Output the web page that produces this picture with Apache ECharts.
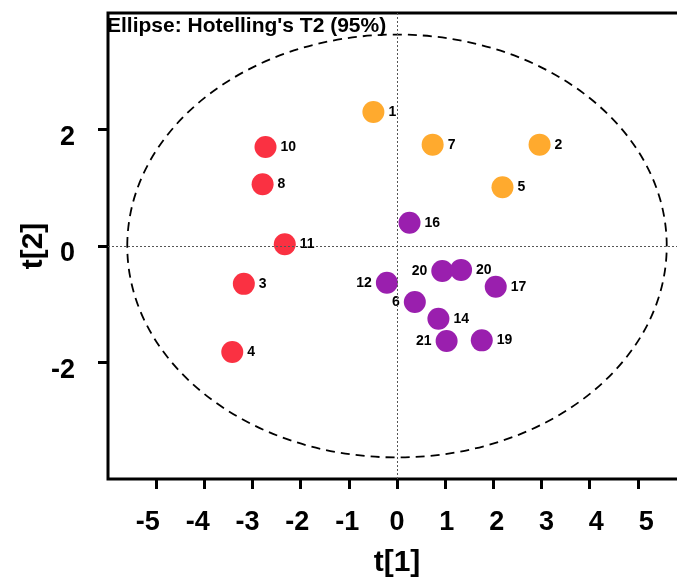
<!DOCTYPE html>
<html><head><meta charset="utf-8">
<script src="https://cdn.jsdelivr.net/npm/echarts@6/dist/echarts.min.js"></script>
<style>html,body{margin:0;padding:0;background:#fff}#c{width:677px;height:577px}</style>
</head><body><div id="c"></div>
<script>
// ---- data ----
const titleText = "Ellipse: Hotelling's T2 (95%)";
const xName = 't[1]';
const yName = 't[2]';
const xTicks = [-5, -4, -3, -2, -1, 0, 1, 2, 3, 4, 5];
const yTicks = [-2, 0, 2];

const orangeNames = ['1', '7', '2', '5'];
const orangeX = [-0.49, 0.74, 2.96, 2.19];
const orangeY = [2.30, 1.74, 1.74, 1.01];

const redNames = ['10', '8', '11', '3', '4'];
const redX = [-2.73, -2.79, -2.33, -3.18, -3.42];
const redY = [1.70, 1.06, 0.03, -0.65, -1.82];

const purpleNames = ['16', '20', '20', '12', '17', '6', '14', '21', '19'];
const purpleX = [0.26, 0.94, 1.33, -0.21, 2.05, 0.37, 0.86, 1.03, 1.76];
const purpleY = [0.40, -0.43, -0.41, -0.63, -0.70, -0.96, -1.25, -1.63, -1.62];

const ellipseCenter = [0, 0];
const ellipseRadii = [5.6, 3.63];

// ---- styling ----
const leftLabelPurple = [1, 3, 5, 7];
const FONT = 'Liberation Sans, Arial, sans-serif';

function build(names, xs, ys, leftIdx) {
  return xs.map((x, i) => {
    const item = { name: names[i], value: [x, ys[i]] };
    if (leftIdx && leftIdx.indexOf(i) >= 0) item.label = { position: 'left' };
    return item;
  });
}

function scatter(name, color, data, extra) {
  return Object.assign({
    name: name, type: 'scatter', xAxisIndex: 0, yAxisIndex: 0,
    symbol: 'circle', symbolSize: 22, z: 3,
    itemStyle: { color: color, opacity: 1 },
    label: { show: true, formatter: '{b}', position: 'right', distance: 4,
      fontFamily: FONT, fontWeight: 'bold', fontSize: 14, color: '#000' },
    emphasis: { disabled: true },
    data: data
  }, extra || {});
}

const axisLabelStyle = { fontFamily: FONT, fontWeight: 'bold', fontSize: 27, color: '#000' };

const chart = echarts.init(document.getElementById('c'), null, { renderer: 'canvas' });
chart.setOption({
  animation: false,
  backgroundColor: '#fff',
  title: {
    text: titleText, left: 107, top: 16, padding: 0,
    textStyle: { fontFamily: FONT, fontWeight: 'bold', fontSize: 21, color: '#000' }
  },
  grid: { left: 108, right: -9, top: 13, bottom: 98, show: true,
    outerBoundsMode: 'none', containLabel: false,
    borderColor: '#000', borderWidth: 3, backgroundColor: 'transparent' },
  xAxis: [{
    type: 'value', min: -6, max: 6, interval: 1, position: 'bottom',
    axisLine: { show: false, onZero: false },
    axisTick: { show: true, inside: false, length: 10, customValues: xTicks,
      lineStyle: { color: '#000', width: 3 } },
    axisLabel: { show: false },
    splitLine: { show: false },
    name: xName, nameLocation: 'middle', nameGap: 69,
    nameTextStyle: { fontFamily: FONT, fontWeight: 'bold', fontSize: 30, color: '#000' }
  }, {
    type: 'value', min: -5.8, max: 5.8, position: 'bottom',
    axisLine: { show: false, onZero: false }, axisTick: { show: false }, splitLine: { show: false },
    axisLabel: Object.assign({ show: true, margin: 30, customValues: xTicks }, axisLabelStyle)
  }],
  yAxis: [{
    type: 'value', min: -4, max: 4, interval: 2, position: 'left',
    axisLine: { show: false, onZero: false },
    axisTick: { show: true, inside: false, length: 10, customValues: yTicks,
      lineStyle: { color: '#000', width: 3 } },
    axisLabel: { show: false },
    splitLine: { show: false },
    name: yName, nameLocation: 'middle', nameGap: 59,
    nameTextStyle: { fontFamily: FONT, fontWeight: 'bold', fontSize: 30, color: '#000' }
  }, {
    type: 'value', min: -3.863, max: 4.137, position: 'left',
    axisLine: { show: false, onZero: false }, axisTick: { show: false }, splitLine: { show: false },
    axisLabel: Object.assign({ show: true, margin: 33, customValues: yTicks }, axisLabelStyle)
  }],
  series: [
    {
      type: 'custom', xAxisIndex: 0, yAxisIndex: 0, silent: true, z: 1,
      data: [[ellipseCenter[0], ellipseCenter[1], ellipseRadii[0], ellipseRadii[1]]],
      renderItem: function (params, api) {
        const c = api.coord([api.value(0), api.value(1)]);
        const ex = api.coord([api.value(0) + api.value(2), api.value(1)]);
        const ey = api.coord([api.value(0), api.value(1) + api.value(3)]);
        return {
          type: 'ellipse',
          shape: { cx: c[0], cy: c[1], rx: Math.abs(ex[0] - c[0]), ry: Math.abs(c[1] - ey[1]) },
          style: { fill: null, stroke: '#000', lineWidth: 1.8, lineDash: [9, 6] }
        };
      }
    },
    scatter('red', '#FA3142', build(redNames, redX, redY), {
      markLine: {
        silent: true, symbol: 'none', label: { show: false },
        lineStyle: { type: [2, 2], color: '#555', width: 1 },
        emphasis: { disabled: true },
        data: [{ xAxis: 0 }, { yAxis: 0 }]
      }
    }),
    scatter('orange', '#FFAA2E', build(orangeNames, orangeX, orangeY)),
    scatter('purple', '#9A1FAE', build(purpleNames, purpleX, purpleY, leftLabelPurple))
  ]
});
</script>
</body></html>
